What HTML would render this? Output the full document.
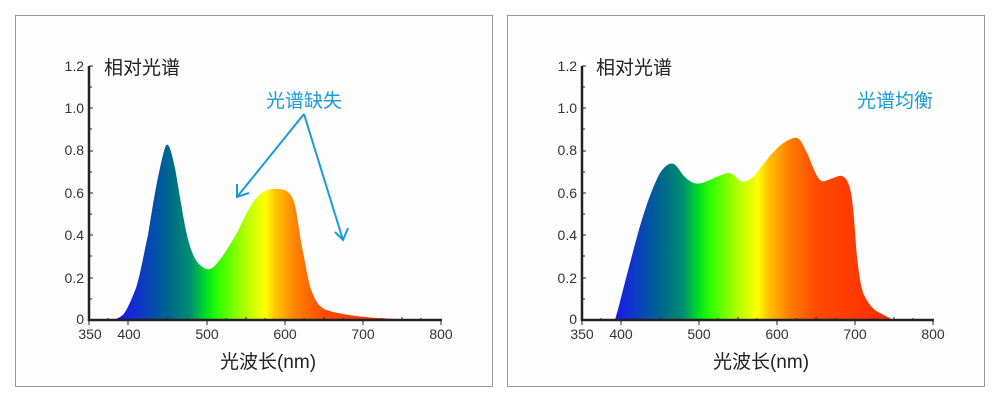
<!DOCTYPE html>
<html><head><meta charset="utf-8"><style>
body{margin:0;background:#fff;}
svg{display:block;font-family:"Liberation Sans","Noto Sans CJK SC",sans-serif;}
</style></head><body>
<svg width="1000" height="401" viewBox="0 0 1000 401">
<defs>
<linearGradient id="gL" gradientUnits="userSpaceOnUse" x1="89" y1="0" x2="441" y2="0">
<stop offset="0.089" stop-color="#1818e8"/><stop offset="0.133" stop-color="#1030d0"/>
<stop offset="0.2" stop-color="#0058a0"/><stop offset="0.233" stop-color="#006a88"/>
<stop offset="0.289" stop-color="#009070"/><stop offset="0.333" stop-color="#00e020"/>
<stop offset="0.367" stop-color="#30ff00"/><stop offset="0.444" stop-color="#b0ff00"/>
<stop offset="0.5" stop-color="#ffff00"/><stop offset="0.533" stop-color="#ffc000"/>
<stop offset="0.589" stop-color="#ff8000"/><stop offset="0.667" stop-color="#ff4a00"/>
<stop offset="0.889" stop-color="#ff2a00"/></linearGradient>
<linearGradient id="gR" gradientUnits="userSpaceOnUse" x1="582" y1="0" x2="933" y2="0">
<stop offset="0.089" stop-color="#1818e8"/><stop offset="0.133" stop-color="#1030d0"/>
<stop offset="0.2" stop-color="#0058a0"/><stop offset="0.233" stop-color="#006a88"/>
<stop offset="0.289" stop-color="#009070"/><stop offset="0.333" stop-color="#00e020"/>
<stop offset="0.367" stop-color="#30ff00"/><stop offset="0.444" stop-color="#b0ff00"/>
<stop offset="0.5" stop-color="#ffff00"/><stop offset="0.533" stop-color="#ffc000"/>
<stop offset="0.589" stop-color="#ff8000"/><stop offset="0.667" stop-color="#ff4a00"/>
<stop offset="0.889" stop-color="#ff2a00"/></linearGradient>
</defs>
<rect x="15.5" y="15.5" width="477" height="371" fill="#fdfdfd" stroke="#999"/>
<rect x="507.5" y="15.5" width="477" height="371" fill="#fdfdfd" stroke="#999"/>

<path fill="url(#gL)" d="M111,320 C117,319 121,317 124,313.7 C129,306 132,298 136,288 C141,272 144,252 148,235 C152,210 156,185 160,168 C163,155 165,145 167,144.5 C170,145 172,155 175,168 C179,190 183,218 187,235 C191,252 195,260 199,264 C203,268 207,270 210,269 C214,268 218,262 222,257 C228,248 233,240 238,231 C244,218 249,208 254,201 C259,195 262,192 266,190.5 C270,189 274,188.5 277,189 C282,189 286,190 289,193 C292,196 294,200 296,210 C299,228 301,244 304,257 C307,273 309,285 312,292 C316,302 319,306 324,309 C331,312 338,313 347,314.7 C360,316.5 370,317.5 378,318 C395,319 408,320 418,320 Z"/>
<path fill="url(#gR)" d="M615,320 C620,303 624,285 629,267 C634,248 639,228 645,210 C650,195 655,182 660,173 C664,167 668,163.5 672,163.5 C677,164 680,172 684,176 C690,182 694,184 699,183.5 C706,183 712,178 719,176 C724,174 727,172.5 730,173 C735,174 738,181 742,181.5 C746,182 750,180 754,176 C759,170 764,163 769,157 C775,150 780,145 785,142 C790,139 794,137 797,138 C801,139 804,147 808,155 C812,165 816,176 820,180 C823,183 827,180 832,178.5 C836,177 839,175.5 842,176 C846,177 849,183 851,193 C854,210 855,235 857,257 C859,275 861,288 864,295 C869,305 873,309 878,312 C884,315 889,318 894,320 Z"/>

<g stroke="#222" fill="none">
<path d="M89,66V321M88,320H442" stroke-width="2.5"/>
<path d="M582,66V321M581,320H934" stroke-width="2.5"/>
<path stroke-width="1" d="M89,66h4M89,87h3M89,108h4M89,129h3M89,151h4M89,172h3M89,193h4M89,214h3M89,235h4M89,256h3M89,278h4M89,299h3
M89,320v5M128,320v5M167,320v-3M207,320v5M246,320v-3M285,320v5M324,320v-3M363,320v5M402,320v-3M441,320v5
M108,320v-2M148,320v-2M187,320v-2M226,320v-2M265,320v-2M304,320v-2M343,320v-2M382,320v-2M421,320v-2"/>
<path stroke-width="1" d="M582,66h4M582,87h3M582,108h4M582,129h3M582,151h4M582,172h3M582,193h4M582,214h3M582,235h4M582,256h3M582,278h4M582,299h3
M582,320v5M621,320v5M660,320v-3M699,320v5M738,320v-3M777,320v5M816,320v-3M855,320v5M894,320v-3M933,320v5
M601,320v-2M640,320v-2M679,320v-2M718,320v-2M757,320v-2M796,320v-2M835,320v-2M874,320v-2M913,320v-2"/>
</g>

<g font-size="14" fill="#333" text-anchor="end">
<text x="84" y="71">1.2</text><text x="84" y="113">1.0</text><text x="84" y="155">0.8</text><text x="84" y="198">0.6</text><text x="84" y="240">0.4</text><text x="84" y="283">0.2</text><text x="84" y="324">0</text>
<text x="577" y="71">1.2</text><text x="577" y="113">1.0</text><text x="577" y="155">0.8</text><text x="577" y="198">0.6</text><text x="577" y="240">0.4</text><text x="577" y="283">0.2</text><text x="577" y="324">0</text>
</g>
<g font-size="14" fill="#333" text-anchor="middle">
<text x="90" y="339">350</text><text x="129" y="339">400</text><text x="207" y="339">500</text><text x="285" y="339">600</text><text x="363" y="339">700</text><text x="441" y="339">800</text>
<text x="582" y="339">350</text><text x="621" y="339">400</text><text x="699" y="339">500</text><text x="777" y="339">600</text><text x="855" y="339">700</text><text x="933" y="339">800</text>
</g>
<g font-size="19" fill="#222">
<text x="104" y="74">相对光谱</text><text x="596" y="74">相对光谱</text>
<text x="268" y="368" text-anchor="middle">光波长(nm)</text><text x="761" y="368" text-anchor="middle">光波长(nm)</text>
</g>
<g font-size="19" fill="#1a9ad6">
<text x="266" y="107">光谱缺失</text><text x="857" y="107">光谱均衡</text>
</g>
<g stroke="#1a9ad6" stroke-width="2" fill="none">
<path d="M304,114L237,197M304,114L343,240"/>
<path d="M237,184L237,197L249,193M335,232L343,240L348,228"/>
</g>
</svg>
</body></html>
